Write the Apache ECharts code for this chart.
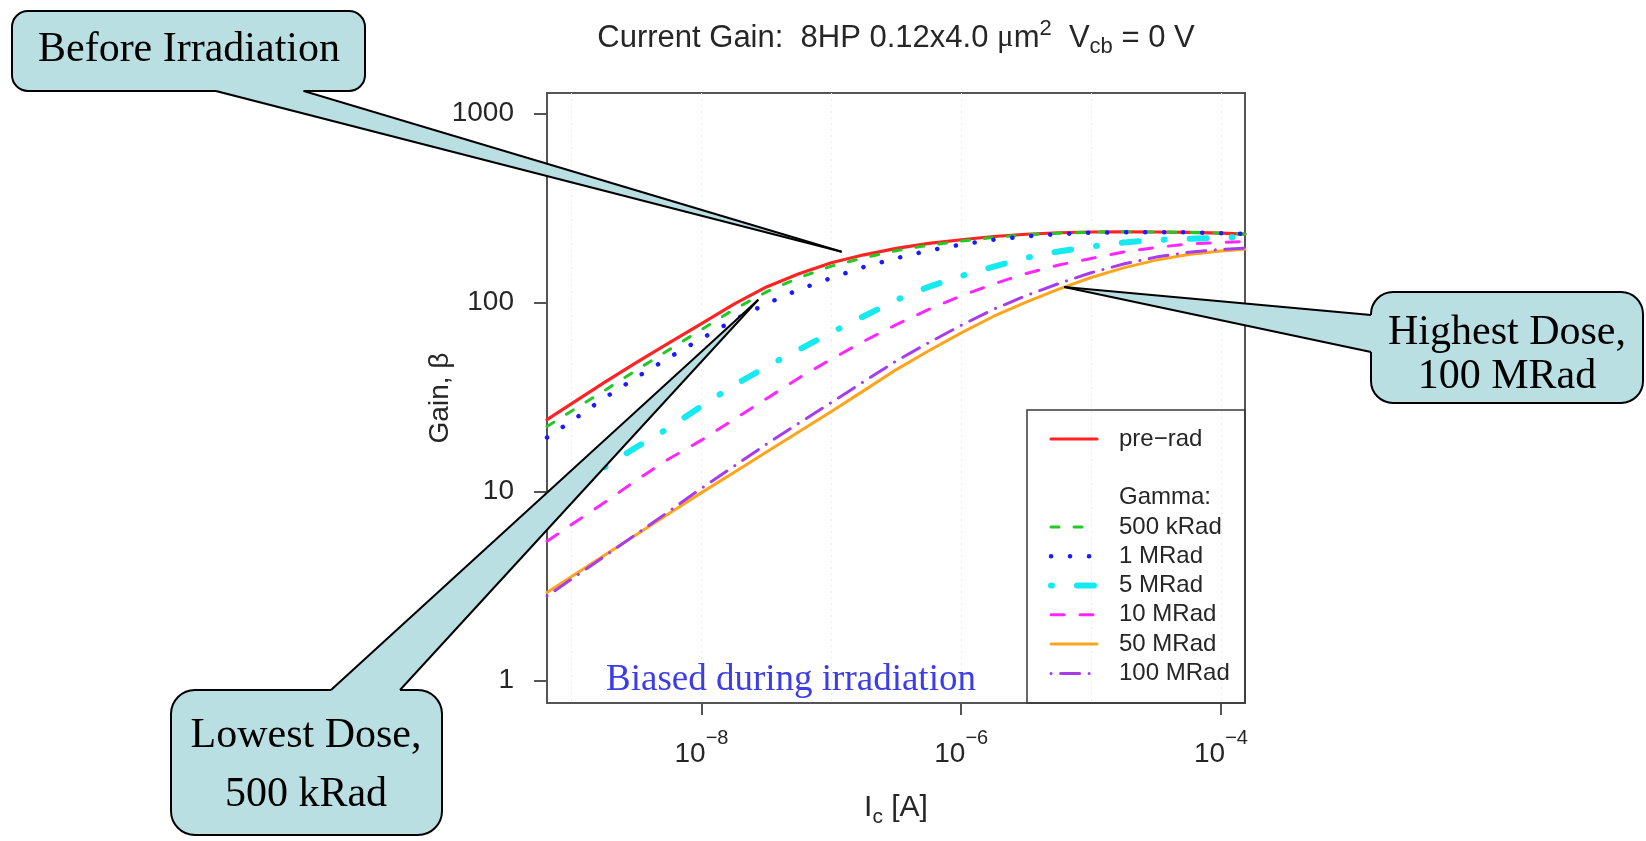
<!DOCTYPE html>
<html>
<head>
<meta charset="utf-8">
<script src="https://cdn.jsdelivr.net/npm/echarts@6/dist/echarts.min.js"></script>
<style>
  html, body { margin: 0; padding: 0; background: #ffffff; }
  #chart { width: 1646px; height: 841px; }
</style>
</head>
<body>
<div id="chart"></div>
<script>
// Collector current sweep (A) shared by all curves
const collectorCurrent = [6.46e-10, 1e-9, 1.778e-9, 3.162e-9, 5.623e-9, 1e-8, 1.778e-8, 3.162e-8, 5.623e-8,
  1e-7, 1.778e-7, 3.162e-7, 5.623e-7, 1e-6, 1.778e-6, 3.162e-6, 5.623e-6, 1e-5, 1.778e-5, 3.162e-5,
  5.623e-5, 1e-4, 1.531e-4];

// Current gain (beta) per dose
const gainPreRad = [24.0, 29.2, 37.7, 48.3, 61.2, 77.4, 98.2, 121.1, 142.2, 162.6, 179.1, 193.6, 206.1,
  215.3, 223.9, 230.1, 234.4, 236.6, 237.1, 236.6, 235.5, 233.3, 230.7];
const gain500kRad = [22.1, 26.7, 34.1, 44.0, 56.3, 72.0, 92.0, 114.0, 135.5, 156.0, 172.6, 188.4, 201.4,
  211.8, 221.3, 228.6, 233.3, 236.0, 237.1, 236.6, 235.5, 233.3, 230.7];
const gain1MRad = [19.3, 23.6, 31.2, 40.2, 51.2, 64.4, 80.9, 98.6, 117.2, 135.2, 154.5, 171.8, 188.8,
  203.2, 215.3, 224.4, 230.7, 234.4, 236.0, 236.0, 235.5, 233.3, 231.2];
const gain5MRad = [8.67, 10.5, 13.4, 17.2, 21.7, 28.3, 36.5, 45.7, 56.4, 69.5, 84.7, 103.3, 121.3,
  138.4, 155.2, 172.6, 186.6, 198.2, 208.0, 214.8, 217.8, 220.8, 223.4];
const gain10MRad = [5.45, 6.68, 8.71, 11.5, 14.9, 18.7, 24.1, 31.0, 39.9, 50.2, 62.5, 76.5, 92.0,
  108.6, 125.6, 142.6, 158.1, 171.4, 185.4, 195.9, 204.6, 208.4, 210.9];
const gain50MRad = [2.92, 3.55, 4.58, 5.92, 7.64, 9.86, 12.6, 16.2, 20.7, 26.5, 34.2, 44.2, 55.6,
  69.2, 84.7, 100.7, 117.8, 135.8, 152.8, 167.9, 179.9, 187.5, 191.4];
const gain100MRad = [2.79, 3.44, 4.52, 5.96, 7.85, 10.4, 13.6, 17.8, 23.0, 29.6, 38.2, 49.1, 61.4,
  75.9, 92.3, 108.9, 126.2, 143.9, 160.0, 174.2, 184.9, 191.4, 194.5];

const seriesNames = ['pre\u2212rad', '500 kRad', '1 MRad', '5 MRad', '10 MRad', '50 MRad', '100 MRad'];
const seriesGains = [gainPreRad, gain500kRad, gain1MRad, gain5MRad, gain10MRad, gain50MRad, gain100MRad];

// Axis ticks
const xTickValues = [1e-8, 1e-6, 1e-4];
const xTickExponents = ['\u22128', '\u22126', '\u22124'];
const xGridValues = [1e-9, 1e-8, 1e-7, 1e-6, 1e-5, 1e-4];
const yTickValues = [1, 10, 100, 1000];
const yTickLabels = ['1', '10', '100', '1000'];

// Axis extents (log-space padding around the decades)
const xMin = 6.46e-10, xMax = 1.531e-4;
const yMin = 0.7586, yMax = 1288;

// Callout anchor points in data space
const beforeTip = [1.2e-7, 186];
const lowestTip = [2.735e-8, 103.6];
const highestTip = [6.2e-6, 121];

const SANS = 'Liberation Sans';
const SERIF = 'Liberation Serif';
const INK = '#262626';
const FRAME = '#555555';

const lineStyles = [
  { color: '#ff2424', width: 3.2, type: 'solid' },
  { color: '#22c922', width: 3, type: [8, 15] },
  { color: '#1a1aff', width: 4.5, type: [0.1, 18.9] },
  { color: '#14eaf0', width: 6, type: [1, 25, 17, 25] },
  { color: '#ff26ff', width: 3, type: [13, 16] },
  { color: '#ffa51c', width: 3, type: 'solid' },
  { color: '#a63cf0', width: 3, type: [0.1, 9.5, 19, 9.5] }
];

const series = seriesNames.map((name, k) => ({
  name: name,
  type: 'line',
  xAxisIndex: 0,
  yAxisIndex: 0,
  symbol: 'none',
  smooth: false,
  clip: true,
  z: 3 + k,
  lineStyle: Object.assign({ cap: 'round', join: 'round' }, lineStyles[k]),
  itemStyle: { color: lineStyles[k].color },
  data: collectorCurrent.map((x, i) => [x, seriesGains[k][i]])
}));

// Spacer and header rows of the legend
series.push({ name: ' ', type: 'line', data: [], symbol: 'none', lineStyle: { width: 0, opacity: 0 } });
series.push({ name: 'Gamma:', type: 'line', data: [], symbol: 'none', lineStyle: { width: 0, opacity: 0 } });

const GRID = { left: 547, top: 93, width: 698, height: 610 };

const option = {
  animation: false,
  backgroundColor: '#ffffff',
  title: {
    left: 896,
    top: 18,
    padding: 0,
    textAlign: 'center',
    text: '{t|Current Gain:  8HP 0.12x4.0 }{g|\u03bc}{t|m}{sup|2}{t|  V}{sub|cb}{t| = 0 V}',
    textStyle: {
      fontWeight: 'normal',
      rich: {
        t: { fontFamily: SANS, fontSize: 31, fontWeight: 'normal', color: INK, lineHeight: 40 },
        g: { fontFamily: SERIF, fontSize: 31, fontWeight: 'normal', color: INK, lineHeight: 40 },
        sup: { fontFamily: SANS, fontSize: 22, fontWeight: 'normal', color: INK, lineHeight: 21, verticalAlign: 'top' },
        sub: { fontFamily: SANS, fontSize: 22, fontWeight: 'normal', color: INK, lineHeight: 21, verticalAlign: 'bottom' }
      }
    }
  },
  grid: {
    left: GRID.left, top: GRID.top, width: GRID.width, height: GRID.height,
    show: true, borderColor: FRAME, borderWidth: 2, backgroundColor: 'transparent'
  },
  legend: {
    orient: 'vertical',
    left: 1048,
    top: 424.35,
    padding: 0,
    itemWidth: 46,
    itemHeight: 14,
    itemGap: 0,
    selectedMode: false,
    data: [seriesNames[0], ' ', 'Gamma:'].concat(seriesNames.slice(1)),
    lineStyle: { width: 'inherit' },
    itemStyle: { opacity: 0, borderWidth: 0 },
    textStyle: { fontFamily: SANS, fontSize: 24, color: INK, lineHeight: 29.3, padding: [0, 0, 0, 17] }
  },
  xAxis: [
    {
      type: 'log',
      min: xMin,
      max: xMax,
      position: 'bottom',
      axisLine: { show: false },
      axisTick: { show: true, inside: false, length: 12, lineStyle: { color: FRAME, width: 2 }, customValues: xTickValues },
      axisLabel: {
        customValues: xTickValues,
        margin: 25,
        formatter: function (v) {
          const i = xTickValues.findIndex(t => Math.abs(Math.log10(t) - Math.log10(v)) < 1e-6);
          return '{b|10}{s|' + xTickExponents[i] + '}';
        },
        rich: {
          b: { fontFamily: SANS, fontSize: 28, color: INK, lineHeight: 40, verticalAlign: 'bottom' },
          s: { fontFamily: SANS, fontSize: 20, color: INK, lineHeight: 20, verticalAlign: 'top' }
        }
      },
      splitLine: { show: false },
      name: '{t|I}{sub|c}{t| [A]}',
      nameLocation: 'middle',
      nameGap: 85,
      nameMoveOverlap: false,
      nameTextStyle: {
        rich: {
          t: { fontFamily: SANS, fontSize: 30, color: INK, lineHeight: 40 },
          sub: { fontFamily: SANS, fontSize: 21, color: INK, lineHeight: 21, verticalAlign: 'bottom' }
        }
      }
    },
    {
      // faint decade guide lines
      type: 'log',
      min: xMin,
      max: xMax,
      position: 'bottom',
      axisLine: { show: false },
      axisTick: { show: false, customValues: xGridValues },
      axisLabel: { show: false },
      splitLine: { show: true, lineStyle: { color: '#ebebeb', width: 1, type: [2, 4] } }
    }
  ],
  yAxis: {
    type: 'log',
    min: yMin,
    max: yMax,
    axisLine: { show: false },
    axisTick: { show: true, inside: false, length: 13, lineStyle: { color: FRAME, width: 2 }, customValues: yTickValues },
    axisLabel: {
      customValues: yTickValues,
      margin: 33,
      fontFamily: SANS,
      fontSize: 28,
      color: INK,
      formatter: function (v) {
        const i = yTickValues.findIndex(t => Math.abs(Math.log10(t) - Math.log10(v)) < 1e-6);
        return yTickLabels[i];
      }
    },
    splitLine: { show: false },
    name: 'Gain, \u03b2',
    nameLocation: 'middle',
    nameGap: 93,
    nameMoveOverlap: false,
    nameRotate: 90,
    nameTextStyle: { fontFamily: SANS, fontSize: 28, color: INK }
  },
  series: series
};

const chart = echarts.init(document.getElementById('chart'), null, { renderer: 'canvas' });
chart.setOption(option);

const toPx = p => chart.convertToPixel({ seriesIndex: 0 }, p);

const CALLOUT_FILL = '#b9dfe2';

// Rounded box with a pointer wedge; base points sit on the box edge, inset points hide the edge under the wedge
function callout(box, r, baseA, baseB, inset, tip, lines, z) {
  const els = [];
  els.push({
    type: 'rect', z: z,
    shape: { x: box[0], y: box[1], width: box[2], height: box[3], r: r },
    style: { fill: CALLOUT_FILL, stroke: '#000', lineWidth: 2 }
  });
  const aIn = [baseA[0] + inset[0], baseA[1] + inset[1]];
  const bIn = [baseB[0] + inset[0], baseB[1] + inset[1]];
  els.push({
    type: 'polygon', z: z + 1,
    shape: { points: [aIn, [baseA[0] - inset[0] * 0.3, baseA[1] - inset[1] * 0.3], tip, [baseB[0] - inset[0] * 0.3, baseB[1] - inset[1] * 0.3], bIn] },
    style: { fill: CALLOUT_FILL, stroke: null }
  });
  els.push({ type: 'polyline', z: z + 2, shape: { points: [baseA, tip] }, style: { stroke: '#000', lineWidth: 2, fill: null } });
  els.push({ type: 'polyline', z: z + 2, shape: { points: [baseB, tip] }, style: { stroke: '#000', lineWidth: 2, fill: null } });
  lines.forEach(l => {
    els.push({
      type: 'text', z: z + 3,
      style: { text: l.text, x: l.x, y: l.y, fill: '#000', font: '42px "' + SERIF + '"', textAlign: 'center', textVerticalAlign: 'middle' }
    });
  });
  return els;
}

const tipBefore = toPx(beforeTip);
const tipLowest = toPx(lowestTip);
const tipHighest = toPx(highestTip);

const graphics = [];
// legend frame
graphics.push({
  type: 'rect', z: 1,
  shape: { x: 1027, y: 410, width: 218, height: 293 },
  style: { fill: 'transparent', stroke: '#3a3a3a', lineWidth: 1.5 }
});
// in-plot note
graphics.push({
  type: 'text', z: 20,
  style: { text: 'Biased during irradiation', x: 606, y: 680, fill: '#3c3ce8', font: '37px "' + SERIF + '"', textAlign: 'left', textVerticalAlign: 'middle' }
});

callout([12, 11, 353, 80], 16, [216, 91], [303.6, 91], [0, -4], tipBefore,
  [{ text: 'Before Irradiation', x: 189, y: 50 }], 100).forEach(e => graphics.push(e));
callout([171, 690, 271, 145], 24, [331, 690], [400, 690], [0, 4], tipLowest,
  [{ text: 'Lowest Dose,', x: 306, y: 736 }, { text: '500 kRad', x: 306, y: 795 }], 110).forEach(e => graphics.push(e));
callout([1371, 292, 272, 111], 22, [1371, 315], [1371, 352], [4, 0], tipHighest,
  [{ text: 'Highest Dose,', x: 1507, y: 333 }, { text: '100 MRad', x: 1507, y: 377 }], 120).forEach(e => graphics.push(e));

chart.setOption({ graphic: graphics });
</script>
</body>
</html>
